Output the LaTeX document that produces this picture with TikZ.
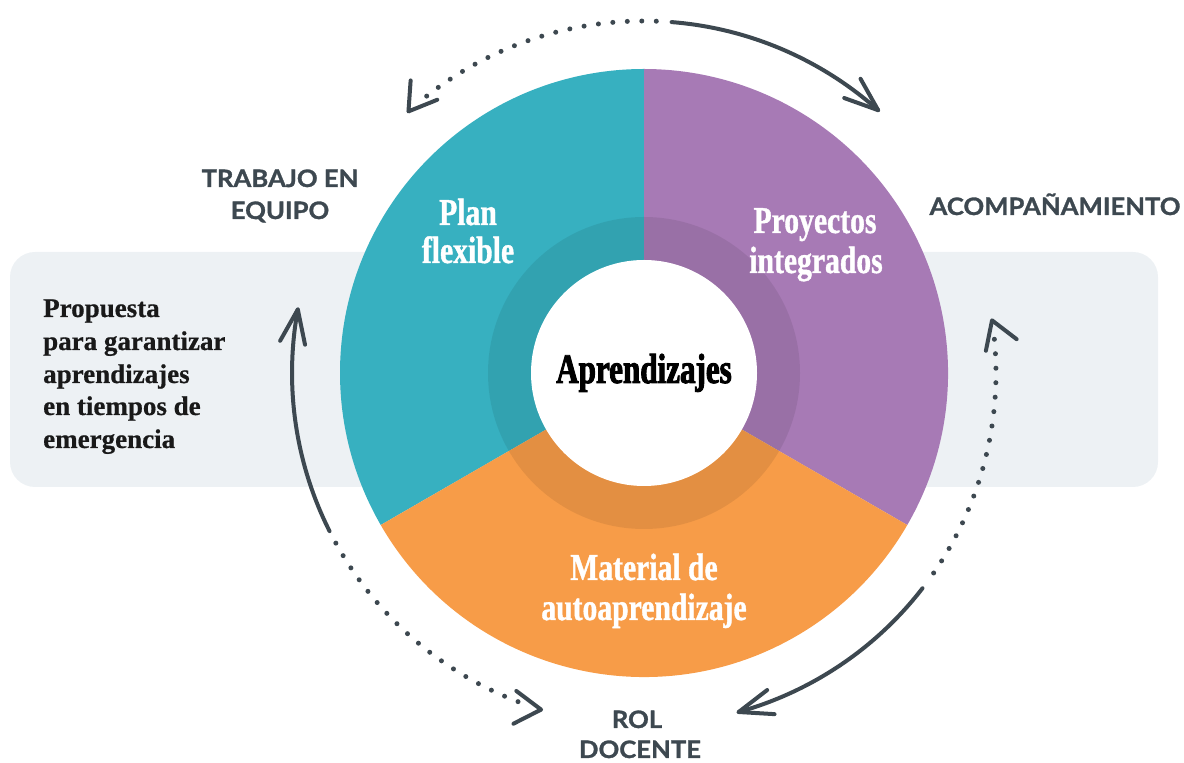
\documentclass[tikz,border=0pt]{standalone}
\usepackage{fontspec}
\setmainfont{Liberation Serif}
\newfontfamily\propfont[FakeBold=0.6]{Liberation Serif}
\newfontfamily\condfont[FakeStretch=0.78,FakeBold=1]{Liberation Serif}
\newfontfamily\corefont[FakeStretch=0.74,FakeBold=2.2]{Liberation Serif}
\newfontfamily\labfont[FakeStretch=1.07,FakeBold=1.2]{Lato}
\definecolor{tealc}{HTML}{37B0C0}
\definecolor{purpc}{HTML}{A77AB5}
\definecolor{orngc}{HTML}{F79C48}
\definecolor{boxgray}{HTML}{EDF1F4}
\definecolor{ink}{HTML}{3D4850}
\tikzset{
  seglabel/.style={anchor=base, text=white, font=\condfont\bfseries\fontsize{38}{40}\selectfont, inner sep=0pt},
  outlabel/.style={anchor=base, text=ink, font=\labfont\bfseries\fontsize{24}{26}\selectfont, inner sep=0pt},
  proplabel/.style={anchor=base west, text=black!90, font=\propfont\bfseries\fontsize{27}{29}\selectfont, inner sep=0pt},
  arcline/.style={draw=ink, line width=4pt, line cap=round},
  dotline/.style={draw=ink, line width=5pt, line cap=round, dash pattern=on 0pt off 14.5pt},
  headline/.style={draw=ink, line width=4pt, line cap=round, line join=round}
}
\begin{document}
\begin{tikzpicture}[x=1pt,y=1pt]
\useasboundingbox (0,0) rectangle (1184,763);
\coordinate (C) at (644,390);
% background band
\fill[boxgray, rounded corners=25pt] (10,276) rectangle (1158,511);
% sectors
\fill[tealc] (C) -- ++(90:304) arc[start angle=90, end angle=210, radius=304] -- cycle;
\fill[purpc] (C) -- ++(-30:304) arc[start angle=-30, end angle=90, radius=304] -- cycle;
\fill[orngc] (C) -- ++(210:304) arc[start angle=210, end angle=330, radius=304] -- cycle;
% darker ring
\fill[black, opacity=0.08, even odd rule] (C) circle[radius=156] (C) circle[radius=113];
% core
\node[circle, fill=white, minimum size=226pt, inner sep=0pt] (core) at (C) {};
\node[anchor=base, inner sep=0pt, font=\corefont\bfseries\fontsize{42}{44}\selectfont] (aprend) at (644,380) {Aprendizajes};
% segment labels
\node[seglabel] (plan1) at (468,538) {Plan};
\node[seglabel] (plan2) at (468,500) {flexible};
\node[seglabel] (proy1) at (815,530) {Proyectos};
\node[seglabel] (proy2) at (816,490) {integrados};
\node[seglabel] (mat1) at (644,183) {Material de};
\node[seglabel] (mat2) at (644,143) {autoaprendizaje};
% outer labels
\node[outlabel] (trab1) at (280,576) {TRABAJO EN};
\node[outlabel] (trab2) at (280,544) {EQUIPO};
\node[outlabel] (acomp) at (1055,548) {ACOMPAÑAMIENTO};
\node[outlabel] (rol1) at (637,35) {ROL};
\node[outlabel] (rol2) at (640,5) {DOCENTE};
% proposal text
\node[proplabel] (p1) at (43,446) {Propuesta};
\node[proplabel] (p2) at (43,413) {para garantizar};
\node[proplabel] (p3) at (43,380) {aprendizajes};
\node[proplabel] (p4) at (43,348) {en tiempos de};
\node[proplabel] (p5) at (43,315) {emergencia};
% top arrow
\draw[arcline] (C) ++(85.5:352) arc[start angle=85.5, end angle=48.3, radius=352];
\draw[dotline] (C) ++(88:352) arc[start angle=88, end angle=129, radius=352];
\draw[headline] (C) ++(48.3:352) coordinate (h1) ++(119.3:36) -- (h1) -- ++(160.3:36);
\draw[headline] (C) ++(132:352) coordinate (h2) ++(86:31) -- (h2) -- ++(22:31);
% right arrow
\draw[dotline] (C) ++(5.5:352) arc[start angle=5.5, end angle=-35.3, radius=352];
\draw[arcline] (C) ++(-37.7:352) arc[start angle=-37.7, end angle=-74.4, radius=352];
\draw[headline] (C) ++(8.6:352) coordinate (h3) ++(-37.4:31) -- (h3) -- ++(-101.4:31);
\draw[headline] (C) ++(-74.4:352) coordinate (h4) ++(-3.4:36) -- (h4) -- ++(37.6:36);
% left arrow
\draw[arcline] (C) ++(169.6:352) arc[start angle=169.6, end angle=206.7, radius=352];
\draw[dotline] (C) ++(208.9:352) arc[start angle=208.9, end angle=249.7, radius=352];
\draw[headline] (C) ++(169.6:352) coordinate (h5) ++(240.6:36) -- (h5) -- ++(281.6:36);
\draw[headline] (C) ++(253:352) coordinate (h6) ++(207:31) -- (h6) -- ++(143:31);
\end{tikzpicture}
\end{document}
